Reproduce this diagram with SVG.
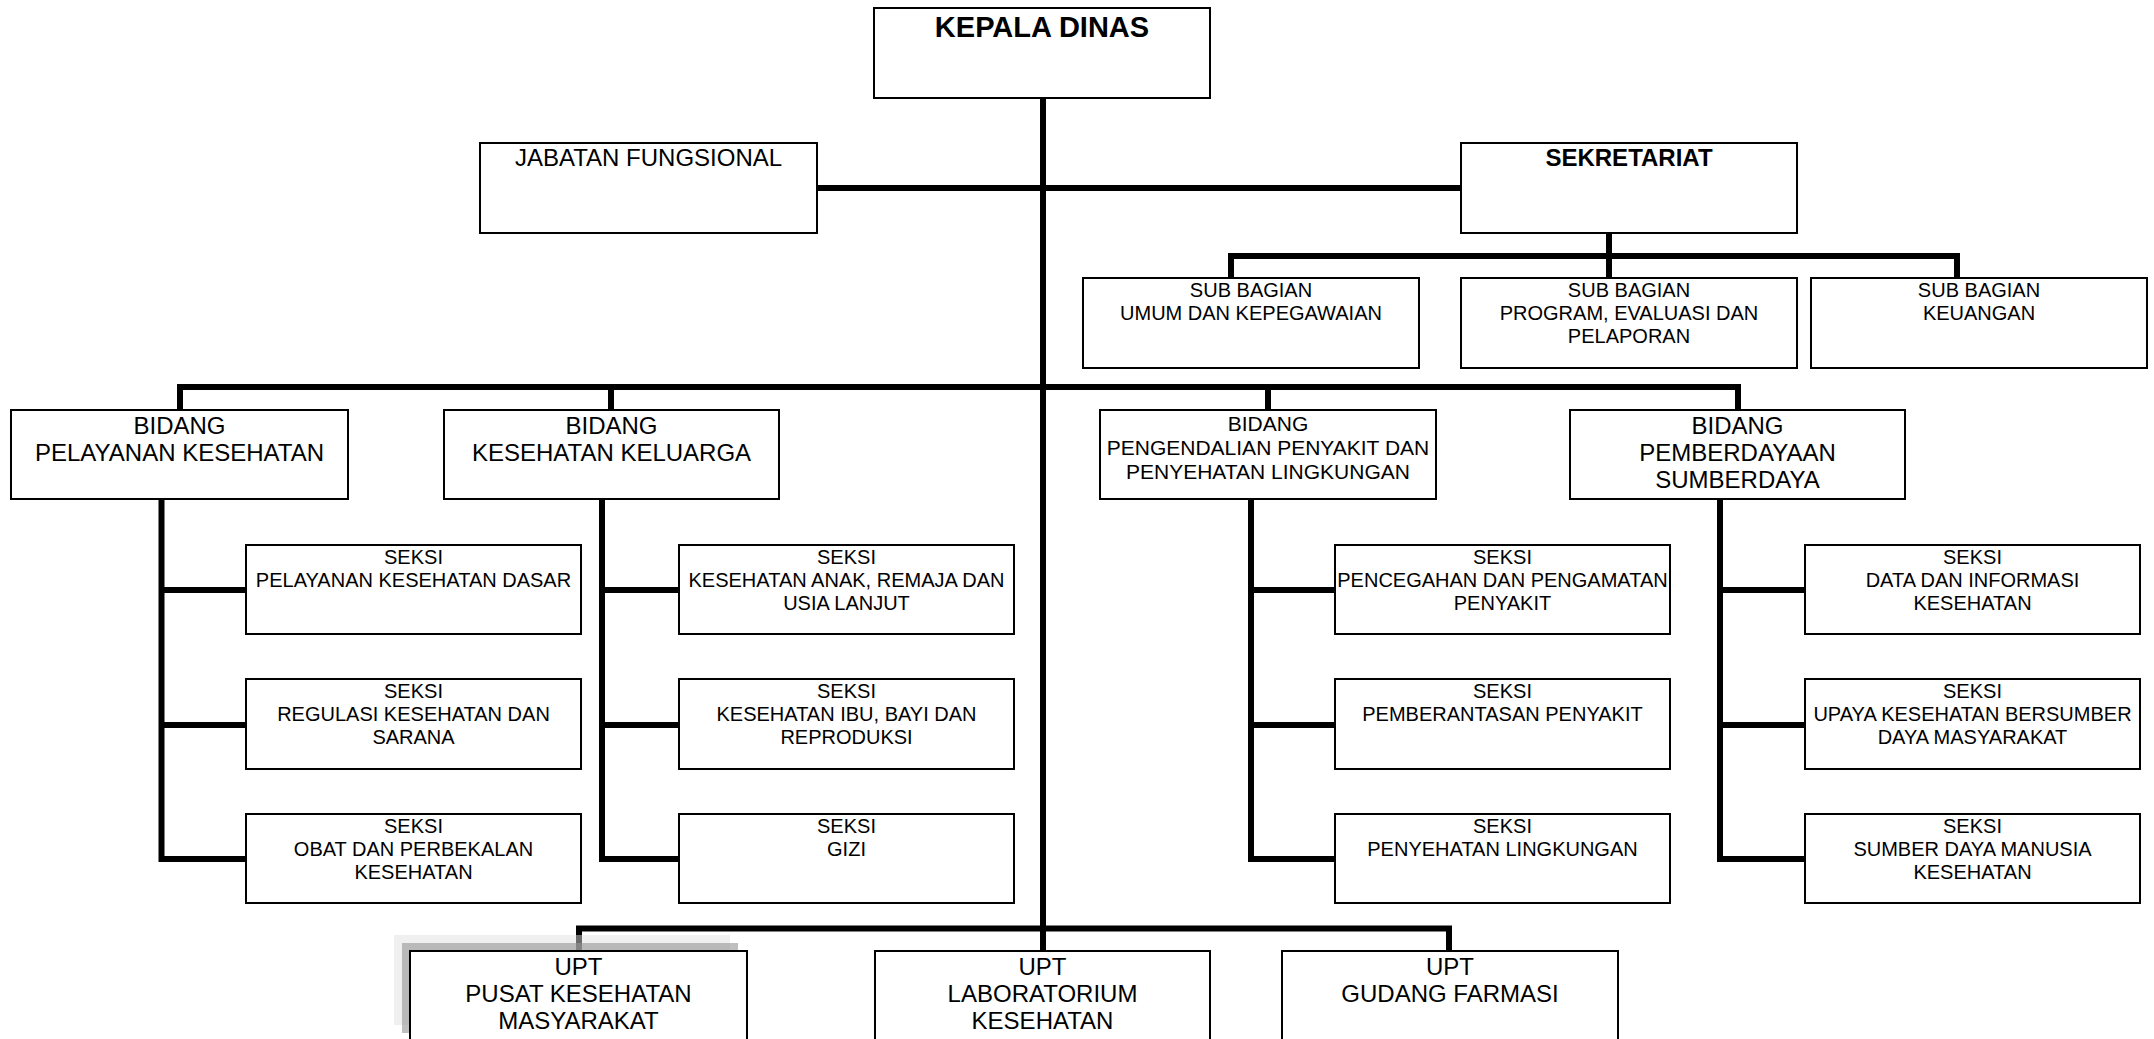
<svg xmlns="http://www.w3.org/2000/svg" width="2154" height="1039" viewBox="0 0 2154 1039">
<style>
.box{fill:#fff;stroke:#000;stroke-width:2}
.con{fill:none;stroke:#000;stroke-width:6;stroke-linejoin:miter;stroke-linecap:butt}
text{font-family:"Liberation Sans",Arial,sans-serif;fill:#000;text-anchor:middle}
.t29b{font-size:29px;font-weight:bold}
.t24{font-size:24px}
.t24b{font-size:24px;font-weight:bold}
.t21{font-size:21px}
.t20{font-size:20px}
</style>
<rect x="0" y="0" width="2154" height="1039" fill="#fff"/>
<g id="connectors">
<path class="con" d="M1043,98 V951"/>
<path class="con" d="M817,188 H1461"/>
<path class="con" d="M1609,233 V278"/>
<path class="con" d="M1231,278 V256 H1957 V278"/>
<path class="con" d="M180,410 V387 H1738 V410"/>
<path class="con" d="M611,387 V410"/>
<path class="con" d="M1268,387 V410"/>
<path class="con" d="M161.5,499 V859 H246 M161.5,590 H246 M161.5,725 H246"/>
<path class="con" d="M602,499 V859 H679 M602,590 H679 M602,725 H679"/>
<path class="con" d="M1251,499 V859 H1335 M1251,590 H1335 M1251,725 H1335"/>
<path class="con" d="M1720,499 V859 H1805 M1720,590 H1805 M1720,725 H1805"/>
<path class="con" d="M579,951 V928.5 H1449 V951"/>
</g>
<g id="kepala-dinas"><rect class="box" x="874" y="8" width="336" height="90"/><text class="t29b" x="1042" y="37">KEPALA DINAS</text></g>
<g id="jabatan-fungsional"><rect class="box" x="480" y="143" width="337" height="90"/><text class="t24" x="648.5" y="166">JABATAN FUNGSIONAL</text></g>
<g id="sekretariat"><rect class="box" x="1461" y="143" width="336" height="90"/><text class="t24b" x="1629" y="166">SEKRETARIAT</text></g>
<g id="sub-umum"><rect class="box" x="1083" y="278" width="336" height="90"/><text class="t20"><tspan x="1251" y="297">SUB BAGIAN</tspan><tspan x="1251" y="320">UMUM DAN KEPEGAWAIAN</tspan></text></g>
<g id="sub-program"><rect class="box" x="1461" y="278" width="336" height="90"/><text class="t20"><tspan x="1629" y="297">SUB BAGIAN</tspan><tspan x="1629" y="320">PROGRAM, EVALUASI DAN</tspan><tspan x="1629" y="343">PELAPORAN</tspan></text></g>
<g id="sub-keuangan"><rect class="box" x="1811" y="278" width="336" height="90"/><text class="t20"><tspan x="1979" y="297">SUB BAGIAN</tspan><tspan x="1979" y="320">KEUANGAN</tspan></text></g>
<g id="bidang-pelayanan"><rect class="box" x="11" y="410" width="337" height="89"/><text class="t24"><tspan x="179.5" y="434">BIDANG</tspan><tspan x="179.5" y="461">PELAYANAN KESEHATAN</tspan></text></g>
<g id="bidang-keluarga"><rect class="box" x="444" y="410" width="335" height="89"/><text class="t24"><tspan x="611.5" y="434">BIDANG</tspan><tspan x="611.5" y="461">KESEHATAN KELUARGA</tspan></text></g>
<g id="bidang-pengendalian"><rect class="box" x="1100" y="410" width="336" height="89"/><text class="t21"><tspan x="1268" y="431">BIDANG</tspan><tspan x="1268" y="455">PENGENDALIAN PENYAKIT DAN</tspan><tspan x="1268" y="479">PENYEHATAN LINGKUNGAN</tspan></text></g>
<g id="bidang-pemberdayaan"><rect class="box" x="1570" y="410" width="335" height="89"/><text class="t24"><tspan x="1737.5" y="434">BIDANG</tspan><tspan x="1737.5" y="461">PEMBERDAYAAN</tspan><tspan x="1737.5" y="488">SUMBERDAYA</tspan></text></g>
<g id="seksi-yankes-dasar"><rect class="box" x="246" y="545" width="335" height="89"/><text class="t20"><tspan x="413.5" y="564">SEKSI</tspan><tspan x="413.5" y="587">PELAYANAN KESEHATAN DASAR</tspan></text></g>
<g id="seksi-regulasi"><rect class="box" x="246" y="679" width="335" height="90"/><text class="t20"><tspan x="413.5" y="698">SEKSI</tspan><tspan x="413.5" y="721">REGULASI KESEHATAN DAN</tspan><tspan x="413.5" y="744">SARANA</tspan></text></g>
<g id="seksi-obat"><rect class="box" x="246" y="814" width="335" height="89"/><text class="t20"><tspan x="413.5" y="833">SEKSI</tspan><tspan x="413.5" y="856">OBAT DAN PERBEKALAN</tspan><tspan x="413.5" y="879">KESEHATAN</tspan></text></g>
<g id="seksi-anak"><rect class="box" x="679" y="545" width="335" height="89"/><text class="t20"><tspan x="846.5" y="564">SEKSI</tspan><tspan x="846.5" y="587">KESEHATAN ANAK, REMAJA DAN</tspan><tspan x="846.5" y="610">USIA LANJUT</tspan></text></g>
<g id="seksi-ibu"><rect class="box" x="679" y="679" width="335" height="90"/><text class="t20"><tspan x="846.5" y="698">SEKSI</tspan><tspan x="846.5" y="721">KESEHATAN IBU, BAYI DAN</tspan><tspan x="846.5" y="744">REPRODUKSI</tspan></text></g>
<g id="seksi-gizi"><rect class="box" x="679" y="814" width="335" height="89"/><text class="t20"><tspan x="846.5" y="833">SEKSI</tspan><tspan x="846.5" y="856">GIZI</tspan></text></g>
<g id="seksi-pencegahan"><rect class="box" x="1335" y="545" width="335" height="89"/><text class="t20"><tspan x="1502.5" y="564">SEKSI</tspan><tspan x="1502.5" y="587">PENCEGAHAN DAN PENGAMATAN</tspan><tspan x="1502.5" y="610">PENYAKIT</tspan></text></g>
<g id="seksi-pemberantasan"><rect class="box" x="1335" y="679" width="335" height="90"/><text class="t20"><tspan x="1502.5" y="698">SEKSI</tspan><tspan x="1502.5" y="721">PEMBERANTASAN PENYAKIT</tspan></text></g>
<g id="seksi-penyehatan"><rect class="box" x="1335" y="814" width="335" height="89"/><text class="t20"><tspan x="1502.5" y="833">SEKSI</tspan><tspan x="1502.5" y="856">PENYEHATAN LINGKUNGAN</tspan></text></g>
<g id="seksi-data"><rect class="box" x="1805" y="545" width="335" height="89"/><text class="t20"><tspan x="1972.5" y="564">SEKSI</tspan><tspan x="1972.5" y="587">DATA DAN INFORMASI</tspan><tspan x="1972.5" y="610">KESEHATAN</tspan></text></g>
<g id="seksi-ukbm"><rect class="box" x="1805" y="679" width="335" height="90"/><text class="t20"><tspan x="1972.5" y="698">SEKSI</tspan><tspan x="1972.5" y="721">UPAYA KESEHATAN BERSUMBER</tspan><tspan x="1972.5" y="744">DAYA MASYARAKAT</tspan></text></g>
<g id="seksi-sdm"><rect class="box" x="1805" y="814" width="335" height="89"/><text class="t20"><tspan x="1972.5" y="833">SEKSI</tspan><tspan x="1972.5" y="856">SUMBER DAYA MANUSIA</tspan><tspan x="1972.5" y="879">KESEHATAN</tspan></text></g>
<g id="upt-puskesmas">
<rect x="394" y="935" width="336" height="90" fill="#dfdfdf" fill-opacity="0.48"/>
<rect x="402" y="943" width="336" height="90" fill="#949494" fill-opacity="0.6"/>
<rect class="box" x="410" y="951" width="337" height="90"/><text class="t24"><tspan x="578.5" y="975">UPT</tspan><tspan x="578.5" y="1002">PUSAT KESEHATAN</tspan><tspan x="578.5" y="1029">MASYARAKAT</tspan></text></g>
<g id="upt-lab"><rect class="box" x="875" y="951" width="335" height="90"/><text class="t24"><tspan x="1042.5" y="975">UPT</tspan><tspan x="1042.5" y="1002">LABORATORIUM</tspan><tspan x="1042.5" y="1029">KESEHATAN</tspan></text></g>
<g id="upt-gudang"><rect class="box" x="1282" y="951" width="336" height="90"/><text class="t24"><tspan x="1450" y="975">UPT</tspan><tspan x="1450" y="1002">GUDANG FARMASI</tspan></text></g>
</svg>
